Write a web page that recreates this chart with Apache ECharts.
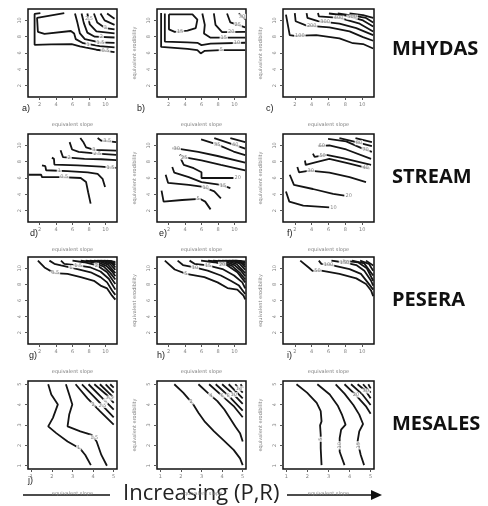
<!DOCTYPE html>
<html>
<head>
<meta charset="utf-8">
<script src="https://cdn.jsdelivr.net/npm/echarts@6/dist/echarts.min.js"></script>
<style>
html, body { margin: 0; background: #fff; }
#chart { width: 488px; height: 506px; }
</style>
</head>
<body>
<div id="chart"></div>
<script>
// contour lines: [level, points [slope, erodibility], label position or null, label rotation]
const mhydasA = [
  ['0.5', [[2.1,10.9],[1.4,10.8],[1.4,7.0],[3.4,7.05],[5.9,7.1],[6.9,6.8],[8.9,6.4],[11.1,6.1]], [10.0,6.25]],
  ['1', [[5.0,10.9],[1.7,10.3],[1.8,8.6],[2.6,8.35],[5.8,8.7],[6.2,8.4],[6.4,7.7],[7.3,7.2],[9.3,6.85],[11.1,6.7]], [7.9,7.05]],
  ['1.5', [[6.3,10.85],[6.6,9.7],[6.9,8.4],[7.5,7.7],[9.3,7.3],[11.1,7.25]], [9.4,7.3]],
  ['2', [[7.1,10.85],[7.4,9.6],[7.8,8.5],[8.7,8.0],[11.1,7.9]], [9.5,7.95]],
  ['2.5', [[7.8,10.85],[8.1,9.5],[8.9,8.65],[11.1,8.4]], [8.0,10.2]],
  ['3', [[8.6,10.85],[9.0,9.75],[10.0,9.05],[11.1,8.9]], [10.0,9.05]],
  ['4', [[9.4,10.85],[9.9,10.0],[11.1,9.45]], null],
  ['5', [[10.2,10.85],[11.1,10.2]], null]
];
const mhydasB = [
  ['5', [[1.1,10.9],[1.1,6.75],[4.3,6.5],[5.5,6.35],[5.9,5.95],[6.4,6.27],[8.3,6.35],[11.3,6.35]], [8.4,6.35]],
  ['10', [[1.55,10.85],[1.55,7.4],[4.3,7.3],[5.5,7.25],[6.0,6.97],[7.1,7.14],[11.3,7.26]], [10.3,7.22]],
  ['15', [[2.05,10.75],[4.9,10.75],[5.5,10.1],[5.3,9.05],[4.3,8.75],[2.75,8.6],[2.05,8.9],[2.05,10.75]], [3.4,8.65]],
  ['15', [[6.1,10.85],[6.4,9.45],[6.3,8.4],[7.1,7.88],[11.3,7.88]], [8.7,7.88]],
  ['20', [[7.5,10.85],[7.7,9.45],[8.5,8.55],[11.3,8.6]], [9.6,8.58]],
  ['25', [[9.1,10.85],[9.5,9.75],[11.3,9.15]], [10.4,9.45]],
  ['30', [[10.5,10.85],[11.3,10.15]], [10.9,10.5]]
];
const mhydasC = [
  ['100', [[0.95,10.7],[1.4,8.2],[2.0,8.1],[4.55,8.2],[7.3,7.8],[8.9,7.2],[10.1,7.1],[11.3,6.55]], [2.6,8.12]],
  ['200', [[2.0,10.9],[2.1,9.9],[3.4,9.35],[6.1,9.15],[8.5,8.65],[10.1,7.95],[11.3,7.5]], [4.0,9.3]],
  ['300', [[3.4,10.9],[3.5,10.3],[4.75,9.9],[7.3,9.6],[9.3,9.05],[11.3,8.2]], [5.6,9.8]],
  ['400', [[4.75,10.9],[4.85,10.5],[7.3,10.3],[9.7,9.6],[11.3,8.65]], [7.2,10.3]],
  ['500', [[6.05,10.85],[8.1,10.6],[10.1,10.0],[11.3,9.25]], [8.8,10.4]],
  ['600', [[7.1,10.85],[8.9,10.6],[10.45,10.3],[11.3,9.75]], null],
  ['700', [[8.5,10.85],[10.1,10.65],[11.3,10.3]], null]
];
const streamD = [
  ['0.5', [[0.7,6.4],[2.2,6.4],[2.3,6.1],[4.6,6.1],[7.0,6.0],[7.65,5.5],[7.9,4.25],[8.2,2.85]], [5.0,6.1]],
  ['1', [[2.3,7.55],[2.7,7.45],[2.8,6.95],[5.4,6.85],[7.85,6.7],[9.05,6.5],[9.65,5.9],[9.95,4.9]], [4.4,6.87]],
  ['1.5', [[3.5,8.5],[3.75,8.35],[3.8,7.65],[6.65,7.55],[9.45,7.4],[11.3,7.25]], [10.6,7.3]],
  ['2', [[4.55,9.4],[4.75,9.25],[4.85,8.55],[7.45,8.35],[9.45,8.3],[11.3,8.2]], [5.6,8.45]],
  ['2.5', [[5.65,10.4],[5.85,10.3],[5.95,9.5],[6.75,9.2],[9.05,9.0],[11.3,8.85]], [9.0,9.0]],
  ['3', [[6.95,10.9],[7.35,10.35],[7.65,9.75],[8.65,9.45],[11.3,9.35]], [8.6,9.47]],
  ['3.5', [[9.05,10.9],[9.45,10.6],[11.3,10.4]], [10.2,10.52]]
];
const streamE = [
  ['5', [[1.15,4.45],[1.4,3.1],[3.65,3.3],[5.8,3.45],[6.45,3.1],[7.1,2.15]], [5.6,3.45]],
  ['10', [[1.65,6.4],[1.95,5.4],[4.45,5.15],[6.2,4.9],[7.55,4.35],[8.35,3.5]], [6.5,4.8]],
  ['15', [[2.45,7.35],[2.7,6.65],[4.45,6.1],[6.0,5.5],[8.35,5.15],[9.5,4.75]], [8.6,5.1]],
  ['20', [[3.5,8.35],[3.85,7.6],[5.05,7.2],[6.0,6.7],[6.0,6.0],[9.9,6.0]], [10.4,6.0]],
  ['25', [[3.35,8.85],[3.85,8.55],[6.0,8.15],[8.35,7.6],[11.3,6.95]], [3.9,8.55]],
  ['30', [[2.5,9.65],[3.1,9.6],[5.6,9.2],[7.95,8.7],[11.3,7.9]], [3.0,9.6]],
  ['35', [[5.95,10.75],[7.95,10.1],[9.9,9.25],[11.3,8.8]], [7.9,10.1]],
  ['40', [[7.55,10.9],[9.9,10.1],[11.3,9.6]], [10.1,10.03]],
  ['45', [[9.5,10.9],[11.3,10.4]], null]
];
const streamF = [
  ['10', [[0.95,4.35],[1.35,3.1],[3.0,2.6],[6.1,2.4]], [6.6,2.38]],
  ['20', [[1.4,6.4],[1.9,5.15],[4.15,4.65],[6.55,4.05],[7.9,3.85]], [8.4,3.85]],
  ['30', [[2.3,7.35],[2.5,6.7],[3.75,6.9],[6.1,6.65],[8.5,6.1],[10.45,5.5]], [3.9,6.88]],
  ['40', [[3.2,8.15],[3.3,7.6],[4.55,7.95],[6.1,8.35],[8.5,7.75],[10.85,7.15]], [10.4,7.26]],
  ['50', [[4.15,9.0],[4.35,8.6],[5.75,8.85],[7.7,8.45],[11.05,7.6]], [5.3,8.78]],
  ['60', [[4.75,9.9],[6.1,10.0],[8.1,9.5],[11.05,8.35]], [5.2,9.93]],
  ['70', [[5.95,10.8],[8.1,10.5],[10.05,9.6],[11.15,9.2]], [10.4,9.47]],
  ['80', [[7.3,10.9],[9.3,10.4],[11.15,9.9]], [9.6,10.33]],
  ['90', [[9.2,10.9],[11.15,10.4]], null]
];
const peseraG = [
  ['0.5', [[1.8,10.95],[2.6,10.1],[3.8,9.4],[5.4,9.3],[7.0,8.9],[8.6,8.45],[9.4,7.85],[10.2,7.5],[10.8,6.6],[11.2,6.1]], [3.9,9.4]],
  ['1', [[3.2,10.95],[3.8,10.55],[4.6,10.35],[6.6,9.9],[8.2,9.5],[9.4,8.9],[10.2,8.25],[10.8,7.25],[11.2,6.7]], [5.8,10.1]],
  ['1.5', [[4.6,10.95],[5.0,10.55],[6.6,10.35],[8.2,10.1],[9.4,9.6],[10.4,8.7],[11.2,7.35]], [6.7,10.33]],
  ['2', [[6.0,10.95],[7.4,10.75],[9.0,10.35],[10.2,9.5],[11.2,8.05]], [8.9,10.38]],
  ['2.5', [[7.0,10.95],[8.5,10.75],[9.8,10.2],[10.6,9.4],[11.2,8.6]], null],
  ['3', [[7.6,10.95],[9.0,10.8],[10.1,10.3],[10.8,9.6],[11.2,9.0]], null],
  ['3.5', [[8.1,10.95],[9.4,10.82],[10.3,10.45],[11.2,9.4]], null],
  ['4', [[8.6,10.95],[9.8,10.85],[10.6,10.5],[11.2,9.8]], null],
  ['4.5', [[9.0,10.95],[10.1,10.88],[10.8,10.6],[11.2,10.1]], null],
  ['5', [[9.4,10.95],[10.4,10.9],[11.2,10.4]], null],
  ['5.5', [[9.8,10.95],[10.7,10.9],[11.2,10.6]], null],
  ['6', [[10.2,10.95],[11.2,10.8]], null]
];
const peseraH = [
  ['5', [[1.55,10.95],[2.75,9.85],[4.15,9.3],[6.35,8.9],[7.95,8.25],[9.15,7.55],[10.35,7.35],[11.1,6.6],[11.3,6.15]], [4.1,9.32]],
  ['10', [[3.1,10.95],[3.75,10.4],[5.15,10.1],[6.75,9.7],[8.35,9.1],[9.55,8.45],[10.55,7.85],[11.3,6.8]], [5.2,10.1]],
  ['15', [[4.55,10.95],[5.15,10.55],[6.75,10.35],[8.55,9.9],[9.95,9.1],[10.95,8.25],[11.3,7.5]], [6.8,10.34]],
  ['20', [[5.95,10.95],[7.55,10.75],[9.15,10.35],[10.35,9.5],[11.3,8.25]], [8.5,10.5]],
  ['25', [[6.8,10.95],[8.4,10.8],[9.7,10.3],[10.6,9.5],[11.3,8.6]], null],
  ['30', [[7.4,10.95],[8.9,10.82],[10.0,10.4],[10.8,9.7],[11.3,9.0]], null],
  ['35', [[8.0,10.95],[9.3,10.85],[10.3,10.5],[11.3,9.4]], null],
  ['40', [[8.5,10.95],[9.7,10.88],[10.6,10.6],[11.3,9.8]], null],
  ['45', [[8.9,10.95],[10.0,10.9],[10.8,10.7],[11.3,10.15]], null],
  ['50', [[9.3,10.95],[10.4,10.92],[11.3,10.45]], null],
  ['55', [[9.7,10.95],[10.7,10.92],[11.3,10.65]], null],
  ['60', [[10.1,10.95],[11.3,10.85]], null]
];
const peseraI = [
  ['50', [[2.65,10.95],[3.75,10.0],[4.1,9.67],[5.15,9.7],[7.3,9.3],[9.3,8.75],[10.45,8.05],[11.05,7.25],[11.3,6.55]], [4.7,9.69]],
  ['100', [[4.85,10.95],[5.15,10.55],[6.1,10.45],[8.5,9.9],[9.85,9.3],[10.65,8.25],[11.3,7.35]], [6.0,10.47]],
  ['150', [[6.35,10.95],[7.7,10.75],[9.3,10.4],[10.25,9.7],[11.05,8.45],[11.3,7.85]], [7.9,10.72]],
  ['200', [[7.7,10.95],[9.5,10.75],[10.55,10.0],[11.3,8.45]], null],
  ['250', [[8.8,10.95],[10.25,10.6],[11.3,9.1]], null],
  ['300', [[9.75,10.95],[10.8,10.55],[11.3,9.7]], null],
  ['350', [[10.45,10.95],[11.3,10.35]], null]
];
const mesalesJ = [
  ['1', [[1.82,5.0],[1.97,4.5],[2.29,4.01],[2.05,3.35],[1.82,2.93],[2.21,2.6],[2.76,2.19],[3.38,1.83],[3.62,1.53],[3.89,1.03]], [3.3,1.87]],
  ['1.5', [[2.68,5.0],[2.84,4.5],[2.99,4.01],[2.84,3.51],[2.76,2.93],[3.38,2.69],[3.93,2.52],[4.17,2.19],[4.4,1.53],[4.67,1.0]], [4.05,2.4]],
  ['2', [[3.15,5.0],[3.73,4.31],[4.33,3.68],[5.0,3.02]], [4.0,4.02]],
  ['2.5', [[3.46,5.0],[4.17,4.26],[5.0,3.38]], [4.45,3.96]],
  ['3', [[3.78,5.0],[4.4,4.37],[5.0,3.76]], [4.6,4.17]],
  ['3.5', [[4.06,5.0],[4.64,4.5],[5.0,4.09]], [4.8,4.32]],
  ['4', [[4.33,5.0],[5.0,4.34]], null],
  ['4.5', [[4.61,5.0],[5.0,4.59]], null],
  ['5', [[4.83,5.0],[5.0,4.83]], null]
];
const mesalesK = [
  ['2', [[1.68,5.0],[2.11,4.59],[2.58,4.04],[2.85,3.6],[3.17,3.15],[3.61,2.69],[4.05,2.27],[4.56,1.78],[4.87,1.36],[5.0,1.03]], [2.5,4.13]],
  ['4', [[2.85,5.0],[3.29,4.59],[3.77,4.17],[4.11,3.76],[4.4,3.31],[4.64,2.93],[4.87,2.6],[5.0,2.19]], [3.45,4.45]],
  ['6', [[3.37,5.0],[3.92,4.5],[4.56,3.93],[5.0,3.38]], [4.0,4.43]],
  ['8', [[3.69,5.0],[4.4,4.34],[5.0,3.71]], [4.3,4.43]],
  ['10', [[4.0,5.0],[4.56,4.5],[5.0,4.04]], [4.56,4.5]],
  ['12', [[4.32,5.0],[5.0,4.31]], null],
  ['14', [[4.64,5.0],[5.0,4.59]], [4.82,4.8]],
  ['16', [[4.9,5.0],[5.0,4.83]], null]
];
const mesalesL = [
  ['5', [[1.48,5.0],[1.98,4.59],[2.44,4.09],[2.63,3.68],[2.67,3.18],[2.6,2.98],[2.63,2.52],[2.63,1.86],[2.67,1.03]], [2.63,2.3], 90],
  ['10', [[2.47,5.0],[3.06,4.5],[3.45,3.93],[3.65,3.48],[3.81,3.02],[3.6,2.77],[3.53,2.36],[3.53,1.69],[3.76,1.03]], [3.53,2.0], 90],
  ['15', [[3.34,5.0],[3.76,4.54],[4.18,3.98],[4.46,3.51],[4.64,3.05],[4.46,2.69],[4.38,2.19],[4.53,1.53],[4.69,1.03]], [4.42,2.0], 90],
  ['20', [[3.76,5.0],[4.3,4.47],[4.77,3.93],[5.0,3.55]], [4.3,4.47]],
  ['25', [[4.07,5.0],[4.61,4.5],[5.0,3.98]], null],
  ['30', [[4.38,5.0],[4.77,4.67],[5.0,4.31]], [4.77,4.67]],
  ['35', [[4.64,5.0],[5.0,4.59]], null],
  ['40', [[4.89,5.0],[5.0,4.8]], null]
];

const panels = [mhydasA, mhydasB, mhydasC, streamD, streamE, streamF, peseraG, peseraH, peseraI, mesalesJ, mesalesK, mesalesL];
const letters = ['a)', 'b)', 'c)', 'd)', 'e)', 'f)', 'g)', 'h)', 'i)', 'j)', '', ''];
const models = ['MHYDAS', 'STREAM', 'PESERA', 'MESALES'];
const ticksWide = [2, 4, 6, 8, 10];
const ticksNarrow = [1, 2, 3, 4, 5];

// layout (pixels)
const colLeft = [28, 157, 283];
const colWidth = [89, 89, 91];
const rowTop = [9, 134, 257, 381];
const rowHeight = [88, 88, 87, 88];
const modelY = [49, 177, 300, 424];
const letterDx = [[-6, -20, -17], [2, 2, 4], [1, 0, 4], [0, 0, 0]];

const chart = echarts.init(document.getElementById('chart'));

const grids = [], xAxes = [], yAxes = [], series = [], graphics = [];
const small = { fontSize: 5, color: '#808080', fontFamily: 'DejaVu Sans' };

panels.forEach((lines, i) => {
  const row = Math.floor(i / 3), col = i % 3;
  const last = row === 3;
  const ticks = last ? ticksNarrow : ticksWide;
  const lo = last ? 0.84 : 0.6, hi = last ? 5.16 : 11.4;
  grids.push({
    left: colLeft[col], top: rowTop[row], width: colWidth[col], height: rowHeight[row],
    show: true, borderColor: '#111', borderWidth: 1.5, outerBoundsMode: 'none'
  });
  xAxes.push({
    type: 'value', gridIndex: i, min: lo, max: hi,
    axisLine: { show: false },
    axisTick: { show: true, length: 3, customValues: ticks, lineStyle: { color: '#555' } },
    axisLabel: Object.assign({ customValues: ticks, margin: 5, formatter: v => String(v) }, small),
    splitLine: { show: false },
    name: 'equivalent slope', nameLocation: 'middle', nameGap: last ? 22 : 25,
    nameTextStyle: small
  });
  yAxes.push({
    type: 'value', gridIndex: i, min: lo, max: hi,
    axisLine: { show: false },
    axisTick: { show: true, length: 3, customValues: ticks, lineStyle: { color: '#555' } },
    axisLabel: Object.assign({ customValues: ticks, margin: 6, rotate: 90, formatter: v => String(v) }, small),
    splitLine: { show: false },
    name: col > 0 ? 'equivalent erodibility' : '', nameLocation: 'middle', nameGap: 20,
    nameRotate: 90, nameTextStyle: small
  });
  lines.forEach(c => {
    series.push({
      type: 'line', xAxisIndex: i, yAxisIndex: i, data: c[1],
      symbol: 'none', showSymbol: false, silent: true, z: 2,
      lineStyle: { color: '#141414', width: 1.8 }
    });
  });
  series.push({
    type: 'scatter', xAxisIndex: i, yAxisIndex: i, symbolSize: 1, silent: true, z: 5,
    itemStyle: { color: 'rgba(0,0,0,0)' },
    label: {
      show: true, position: 'inside', formatter: p => p.name,
      fontSize: 5, color: '#6a6a6a', fontFamily: 'DejaVu Sans',
      backgroundColor: '#fff', padding: [0, 1]
    },
    data: lines.filter(c => c[2]).map(c => ({
      name: c[0], value: c[2], label: c[3] ? { rotate: c[3] } : {}
    }))
  });
  if (letters[i]) {
    graphics.push({
      type: 'text', x: colLeft[col] + letterDx[row][col], y: rowTop[row] + rowHeight[row] + 12,
      style: { text: letters[i], fontSize: 9, fill: '#222', fontFamily: 'Liberation Sans', verticalAlign: 'middle' }
    });
  }
});

models.forEach((m, r) => {
  graphics.push({
    type: 'text', x: 392, y: modelY[r],
    style: { text: m, fontSize: 20, fontWeight: 'bold', fill: '#111', fontFamily: 'Open Sans', verticalAlign: 'middle' }
  });
});

graphics.push(
  { type: 'line', shape: { x1: 23, y1: 495, x2: 110, y2: 495 }, style: { stroke: '#111', lineWidth: 1.5 } },
  { type: 'line', shape: { x1: 287, y1: 495, x2: 376, y2: 495 }, style: { stroke: '#111', lineWidth: 1.5 } },
  { type: 'polygon', shape: { points: [[371, 490], [382, 495], [371, 500]] }, style: { fill: '#111' } },
  { type: 'text', x: 123, y: 494, style: { text: 'Increasing (P,R)', fontSize: 22, fill: '#222', fontFamily: 'Open Sans', verticalAlign: 'middle' } }
);

chart.setOption({
  animation: false,
  backgroundColor: '#fff',
  grid: grids,
  xAxis: xAxes,
  yAxis: yAxes,
  series: series,
  graphic: graphics
});
</script>
</body>
</html>
